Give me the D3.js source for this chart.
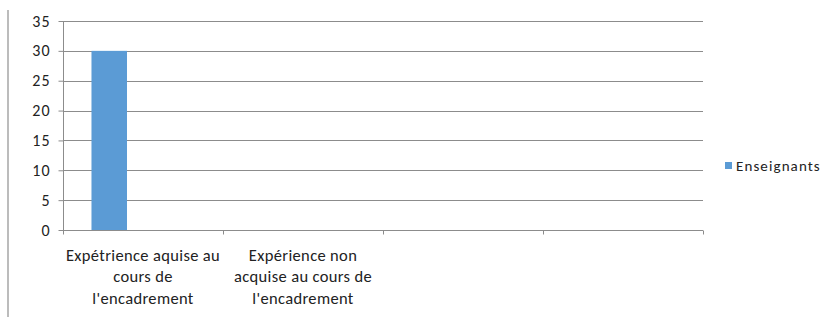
<!DOCTYPE html>
<html><head><meta charset="utf-8">
<script src="https://cdn.jsdelivr.net/npm/d3@7"></script>
<style>body{margin:0;background:#fff}svg{display:block}text{font-family:Calibri,Carlito,"Open Sans",sans-serif;fill:#222}</style>
</head><body>
<script>
const categories = [
  ["Expétrience aquise au", "cours de", "l'encadrement"],
  ["Expérience non", "acquise au cours de", "l'encadrement"],
  [""],
  [""]
];
const seriesNames = ["Enseignants"];
const enseignants = [30, null, null, null];
const yTicks = [0, 5, 10, 15, 20, 25, 30, 35];

(function () {
const W = 822, H = 317;
const svg = d3.select("body").append("svg").attr("width", W).attr("height", H);
const mLeft = 63, mRight = 703, mTop = 21, mBottom = 230;
const grid = "#8c8c8c";

svg.append("line").attr("x1", 8).attr("x2", 8).attr("y1", 10).attr("y2", 317)
  .attr("stroke", "#a6a6a6").attr("stroke-width", 1.5);

const x0 = d3.scaleBand().domain(d3.range(categories.length)).range([mLeft, mRight]).padding(0);
const x1 = d3.scaleBand().domain(seriesNames).range([x0.bandwidth() * 0.178, x0.bandwidth() * 0.4]);
const y = d3.scaleLinear().domain([0, 35]).range([mBottom, mTop]);

svg.append("g").selectAll("line").data(yTicks.filter(d => d > 0)).join("line")
  .attr("x1", mLeft).attr("x2", mRight).attr("y1", d => Math.round(y(d)) + 0.5).attr("y2", d => Math.round(y(d)) + 0.5)
  .attr("stroke", grid).attr("stroke-width", 1);

svg.append("g").selectAll("rect").data(enseignants.map((v, i) => ({v, i})).filter(d => d.v != null)).join("rect")
  .attr("x", d => x0(d.i) + x1("Enseignants")).attr("width", x1.bandwidth())
  .attr("y", d => y(d.v)).attr("height", d => y(0) - y(d.v)).attr("fill", "#5B9BD5");

const ya = svg.append("g").attr("transform", `translate(${mLeft + 0.5},0)`)
  .call(d3.axisLeft(y).tickValues(yTicks).tickSize(5).tickPadding(8).tickFormat(d3.format("d")));
ya.select(".domain").attr("stroke", grid).attr("d", `M0,${mTop}V${mBottom + 0.5}`);
ya.selectAll(".tick line").attr("stroke", grid);
ya.selectAll(".tick text").style("font-size", "16px").style("letter-spacing", "1px").attr("fill", "#222")
  .style("font-family", "Calibri,Carlito,'Open Sans',sans-serif");

const xa = svg.append("g").attr("transform", `translate(0,${mBottom + 0.5})`);
xa.append("line").attr("x1", mLeft).attr("x2", mRight).attr("stroke", grid);
const bounds = [...categories.map((c, i) => x0(i)), mRight];
xa.selectAll("line.t").data(bounds).join("line").attr("class", "t")
  .attr("x1", d => d + 0.5).attr("x2", d => d + 0.5).attr("y1", 0).attr("y2", 4).attr("stroke", grid);
categories.forEach((lines, i) => {
  const t = xa.append("text").attr("text-anchor", "middle").style("font-size", "16.5px").style("letter-spacing", "0.35px")
    .attr("transform", `translate(${x0(i) + x0.bandwidth() / 2},0)`);
  lines.forEach((l, j) => t.append("tspan").attr("x", 0).attr("y", 30 + j * 21.7).text(l));
});

const lg = svg.append("g").attr("transform", "translate(725,162)");
lg.append("rect").attr("width", 7).attr("height", 7).attr("fill", "#5B9BD5");
lg.append("text").attr("x", 11).attr("y", 9).style("font-size", "15px").style("letter-spacing", "1.1px").text(seriesNames[0]);
})();
</script>
</body></html>
